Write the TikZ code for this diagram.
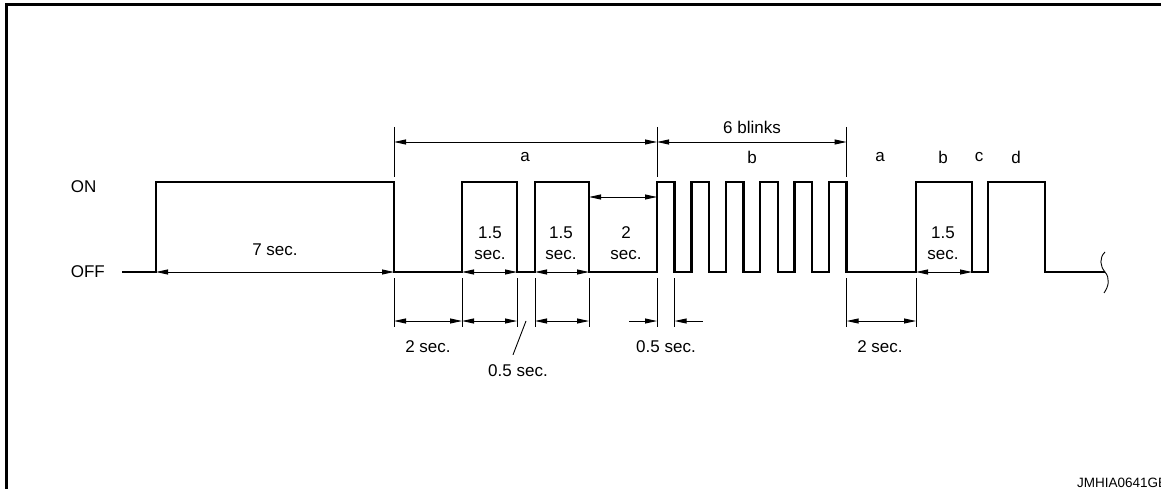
\documentclass[tikz,border=0pt]{standalone}
\usepackage{fontspec}
\setmainfont{Liberation Sans}
\usetikzlibrary{arrows.meta,positioning,calc}

\begin{document}
\begin{tikzpicture}[x=1pt, y=-1pt, >={Triangle[length=12pt,width=5pt]},
    font=\fontsize{17}{21}\selectfont,
    w/.style={line width=2.4pt, line join=miter},
    ext/.style={line width=0.9pt},
    dim/.style={ext, <->},
    lbl/.style={inner sep=1pt, align=center}]
  \useasboundingbox (0,0) rectangle (1161,489);
  \draw[line width=2.8pt] (6.7,489) -- (6.7,4.7) -- (1161,4.7);
  % time marks on the OFF line
  \foreach \n/\x in {s/122, t0/156, t1/394, t2/462, t3/517, t4/535, t5/589,
      t6/657, t7/674.6, t8/846.6, t9/916, t10/972, t11/988, t12/1045, e/1105}
    \coordinate (\n) at (\x,272);
  \coordinate (hiA) at (0,127);
  \coordinate (hiB) at (0,177);
  \coordinate (loA) at (0,278);
  \coordinate (loB) at (0,327);
  \coordinate (arT) at (0,142);
  \coordinate (arM) at (0,197);
  \coordinate (arB) at (0,321);
  \coordinate (onY) at (0,187);
  % signal
  \draw[w] (s) -- (t0) |- (394,182) |- (t2) |- (517,182) |- (t4) |- (589,182) |- (t6)
    \foreach \i in {0,...,4}{ |- ({674.6+34.4*\i},182) |- ({691.4+34.4*\i},272) }
    |- (846.6,182) |- (t9) |- (972,182) |- (t11) |- (1045,182) |- (e);
  \draw[ext] ($(e)+(0,-20)$) .. controls +(-6,6) and +(-5,-6) .. (e)
    .. controls +(5,6) and +(5,-7) .. ($(e)+(-1,21)$);
  % extension lines
  \foreach \c in {t1,t6,t8} \draw[ext] (\c |- hiA) -- (\c |- hiB);
  \foreach \c in {t1,t2,t3,t4,t5,t6,t7,t8,t9} \draw[ext] (\c |- loA) -- (\c |- loB);
  % labels
  \node[lbl, anchor=east] (off) at (106,272) {OFF};
  \node[lbl, anchor=west] (on) at (off.west |- onY) {ON};
  \node[lbl] (sev) at (275,250) {7 sec.};
  \node[lbl] (a1) at (525,157) {a};
  \node[lbl] (blk) at (752,127) {6 blinks};
  \node[lbl] (b1) at (752,157) {b};
  \node[lbl] (a2) at (880,157) {a};
  \node[lbl] (b2) at (943,157) {b};
  \node[lbl] (c2) at (979,157) {c};
  \node[lbl] (d2) at (1016,157) {d};
  \node[lbl] (p1) at (490,243) {1.5\\sec.};
  \node[lbl] (p2) at (561,243) {1.5\\sec.};
  \node[lbl] (tw) at (626,243) {2\\sec.};
  \node[lbl] (p3) at (943,243) {1.5\\sec.};
  \node[lbl] (twA) at (428,347) {2 sec.};
  \node[lbl] (hsA) at (518,371) {0.5 sec.};
  \node[lbl] (hsB) at (666,347) {0.5 sec.};
  \node[lbl] (twB) at (880,347) {2 sec.};
  \node[lbl, anchor=base west, font=\fontsize{13.5}{16}\selectfont] (code) at (1076,487) {JMHIA0641GE};
  % dimensions
  \draw[dim] (t1 |- arT) -- (t6 |- arT);
  \draw[dim] (t6 |- arT) -- (t8 |- arT);
  \draw[dim] (t0) -- (t1);
  \draw[dim] (t2) -- (t3);
  \draw[dim] (t4) -- (t5);
  \draw[dim] (t9) -- (t10);
  \draw[dim] (t5 |- arM) -- (t6 |- arM);
  \draw[dim] (t1 |- arB) -- (t2 |- arB);
  \draw[dim] (t2 |- arB) -- (t3 |- arB);
  \draw[dim] (t4 |- arB) -- (t5 |- arB);
  \draw[dim] (t8 |- arB) -- (t9 |- arB);
  \draw[ext, ->] ($(t6 |- arB)+(-28,0)$) -- (t6 |- arB);
  \draw[ext, ->] ($(t7 |- arB)+(28,0)$) -- (t7 |- arB);
  \draw[ext] ($(hsA.north)+(-5,-9)$) -- ($(t3 |- arB)+(9,0)$);
\end{tikzpicture}
\end{document}
